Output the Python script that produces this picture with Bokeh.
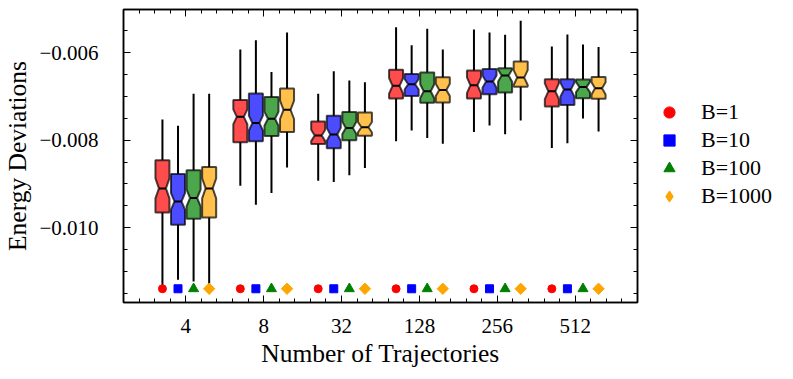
import numpy as np
from bokeh.plotting import figure
from bokeh.layouts import row
from bokeh.models import (Range1d, FixedTicker, LinearAxis, Legend, LegendItem,
                          CustomJSTickFormatter)
from bokeh.embed import file_html
from bokeh.resources import INLINE

# ---------------- data ----------------
categories = ["4", "8", "32", "128", "256", "512"]
series_labels = ["B=1", "B=10", "B=100", "B=1000"]
series_colors = ["red", "blue", "green", "orange"]
series_markers = ["circle", "square", "triangle", "square"]
series_angles = [0.0, 0.0, 0.0, np.pi / 4]
legend_markers = ["circle", "square", "triangle", "diamond"]

# rows: B=1, B=10, B=100, B=1000 ; columns: categories
whisker_high = [
    [-0.007528, -0.005924, -0.006939, -0.005416, -0.005466, -0.005856],
    [-0.007666, -0.005711, -0.006422, -0.005826, -0.005535, -0.005581],
    [-0.006939, -0.006440, -0.006635, -0.005450, -0.005588, -0.005810],
    [-0.006939, -0.005535, -0.006674, -0.005924, -0.005267, -0.005867],
]
q3 = [
    [-0.008461, -0.007081, -0.007574, -0.006387, -0.006406, -0.006605],
    [-0.008772, -0.006932, -0.007441, -0.006486, -0.006371, -0.006605],
    [-0.008690, -0.007013, -0.007352, -0.006451, -0.006355, -0.006612],
    [-0.008612, -0.006818, -0.007368, -0.006561, -0.006199, -0.006554],
]
median = [
    [-0.009102, -0.007464, -0.007890, -0.006756, -0.006742, -0.006880],
    [-0.009400, -0.007608, -0.007867, -0.006719, -0.006658, -0.006841],
    [-0.009322, -0.007510, -0.007718, -0.006880, -0.006520, -0.006784],
    [-0.009102, -0.007304, -0.007704, -0.006848, -0.006566, -0.006811],
]
q1 = [
    [-0.009652, -0.008044, -0.008085, -0.007047, -0.007047, -0.007230],
    [-0.009934, -0.008021, -0.008183, -0.006987, -0.006948, -0.007196],
    [-0.009796, -0.007902, -0.008002, -0.007145, -0.006910, -0.007042],
    [-0.009766, -0.007814, -0.007895, -0.007139, -0.006777, -0.007052],
]
whisker_low = [
    [-0.011400, -0.009040, -0.008926, -0.008025, -0.007810, -0.008176],
    [-0.011194, -0.009475, -0.008955, -0.007780, -0.007661, -0.008071],
    [-0.011233, -0.009207, -0.008804, -0.007947, -0.007865, -0.007505],
    [-0.011380, -0.008623, -0.008635, -0.008078, -0.007546, -0.007803],
]
notch_half = [
    [0.00023, 0.00017, 0.00013, 0.00018, 0.00018, 0.00018],
    [0.00019, 0.00017, 0.00015, 0.00012, 0.00014, 0.00016],
    [0.00019, 0.00016, 0.00014, 0.00016, 0.00014, 0.00012],
    [0.00023, 0.00021, 0.00012, 0.00014, 0.00017, 0.00014],
]
marker_level = -0.0114

# ---------------- layout constants ----------------
offsets = [-0.3, -0.1, 0.1, 0.3]
box_w = 0.18
FONT = "Liberation Serif"
FS = "21px"
FS_LABEL = "25.5px"

p = figure(width=642, height=375, output_backend="svg", toolbar_location=None,
           x_range=Range1d(0.2, 6.8), y_range=Range1d(-0.011714, -0.005008),
           min_border_left=119, min_border_right=5, min_border_top=9,
           min_border_bottom=73)
p.grid.visible = False
p.outline_line_color = "black"
p.outline_line_width = 1.5
p.background_fill_color = "white"

pos = np.arange(1, len(categories) + 1)

for s in range(4):
    xc = pos + offsets[s]
    p.segment(x0=xc, y0=q3[s], x1=xc, y1=whisker_high[s], line_color="black", line_width=2)
    p.segment(x0=xc, y0=q1[s], x1=xc, y1=whisker_low[s], line_color="black", line_width=2)
    xs, ys = [], []
    for i in range(len(categories)):
        c = xc[i]
        l, r = c - box_w / 2, c + box_w / 2
        cl, cr = c - box_w / 4, c + box_w / 4
        m = median[s][i]
        n = notch_half[s][i]
        xs.append([l, r, r, cr, r, r, l, l, cl, l, l])
        ys.append([q1[s][i], q1[s][i], m - n, m, m + n, q3[s][i], q3[s][i], m + n, m, m - n, q1[s][i]])
    p.patches(xs=xs, ys=ys, fill_color=series_colors[s], fill_alpha=0.7,
              line_color="black", line_alpha=0.7, line_width=2)
    p.segment(x0=xc - box_w / 4, y0=median[s], x1=xc + box_w / 4, y1=median[s],
              line_color="black", line_width=2)

bottom_sizes = [8, 8, 10, 8]
for s in range(4):
    xc = pos + offsets[s]
    p.scatter(x=xc, y=[marker_level] * len(categories), marker=series_markers[s],
              size=bottom_sizes[s], angle=series_angles[s],
              fill_color=series_colors[s], line_color=series_colors[s])

# ---------------- axes ----------------
xticker = FixedTicker(ticks=list(pos), minor_ticks=[round(v, 2) for v in np.arange(0.2, 6.81, 0.2)])
yticker = FixedTicker(ticks=[-0.010, -0.008, -0.006],
                      minor_ticks=[round(v, 5) for v in np.arange(-0.0115, -0.00499, 0.0005)])

xax = p.below[0]
yax = p.left[0]
xax.ticker = xticker
xax.major_label_overrides = {int(i + 1): c for i, c in enumerate(categories)}
yax.ticker = yticker
yax.formatter = CustomJSTickFormatter(code="return '\u2212' + Math.abs(tick).toFixed(3);")
xax.axis_label = "Number of Trajectories"
yax.axis_label = "Energy Deviations"

top = LinearAxis(ticker=xticker, formatter=CustomJSTickFormatter(code="return '';"))
right = LinearAxis(ticker=yticker, formatter=CustomJSTickFormatter(code="return '';"))
p.add_layout(top, "above")
p.add_layout(right, "right")

for ax in [xax, yax, top, right]:
    ax.major_tick_in = 7
    ax.major_tick_out = 0
    ax.minor_tick_in = 4
    ax.minor_tick_out = 0
    ax.major_tick_line_color = "black"
    ax.minor_tick_line_color = "black"
    ax.major_tick_line_width = 1
    ax.minor_tick_line_width = 1
    ax.axis_line_color = "black"
    ax.axis_line_width = 1.5
    ax.major_label_text_font = FONT
    ax.major_label_text_font_size = FS
    ax.major_label_text_color = "black"
    ax.axis_label_text_font = FONT
    ax.axis_label_text_font_size = FS_LABEL
    ax.axis_label_text_font_style = "normal"
    ax.axis_label_text_color = "black"

top.major_label_standoff = 0
right.major_label_standoff = 0
xax.major_label_standoff = 16
xax.axis_label_standoff = 3
yax.major_label_standoff = 25
yax.axis_label_standoff = 4

# ---------------- legend (separate panel on the right) ----------------
lg = figure(width=135, height=375, output_backend="svg", toolbar_location=None,
            x_axis_type=None, y_axis_type=None, min_border=0,
            x_range=Range1d(100, 101), y_range=Range1d(100, 101))
lg.outline_line_color = None
lg.grid.visible = False
items = []
for s in range(4):
    xc = pos + offsets[s]
    r = lg.scatter(x=xc, y=[marker_level] * len(categories), marker=legend_markers[s],
                   fill_color=series_colors[s], line_color=series_colors[s])
    items.append(LegendItem(label=series_labels[s], renderers=[r], index=0))
legend = Legend(items=items, location=(13, 92), orientation="vertical",
                border_line_alpha=0, background_fill_alpha=0,
                padding=0, margin=0, spacing=0, glyph_width=28, glyph_height=28,
                label_height=20, label_standoff=18,
                label_text_font=FONT, label_text_font_size="22px",
                label_text_color="black")
lg.add_layout(legend, "center")

layout = row(p, lg)
open("out.html", "w").write(file_html(layout, INLINE))
